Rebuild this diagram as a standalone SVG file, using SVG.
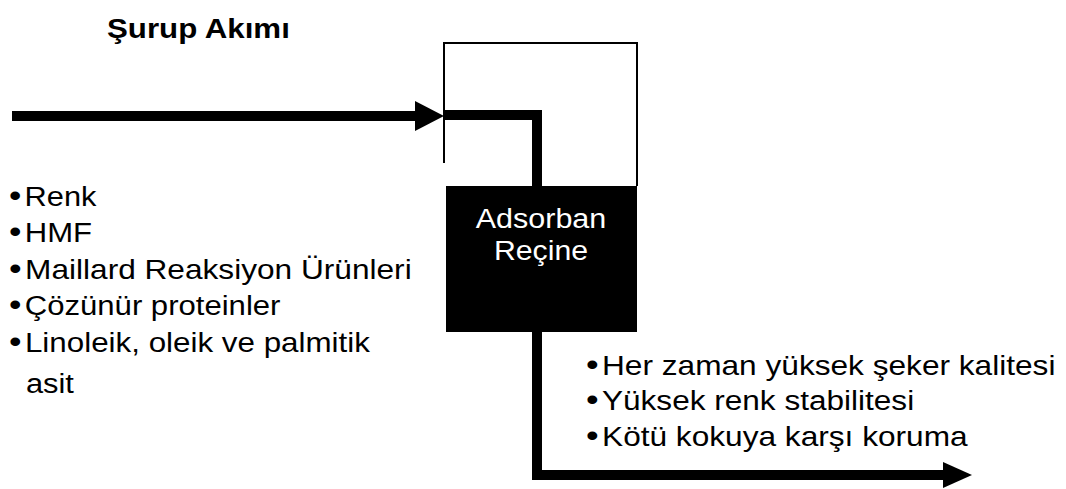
<svg xmlns="http://www.w3.org/2000/svg" width="1066" height="489" viewBox="0 0 1066 489">
  <style>
    .txt { font-family: "Liberation Sans", Arial, sans-serif; font-size: 28px; fill: #000; }
    .title { font-weight: bold; }
    .inv { fill: #fff; text-anchor: middle; }
    .b { font-size: 32px; }
    .flow { fill: none; stroke: #000; stroke-width: 10; stroke-linejoin: miter; }
    .outline { fill: none; stroke: #000; stroke-width: 2; }
  </style>

  <rect width="1066" height="489" fill="#fff"/>

  <!-- all lettering is set slightly wide: horizontal scale on each line -->
  <text class="txt title" transform="translate(107,38) scale(1.116,1)">Şurup Akımı</text>

  <!-- column vessel: open upper chamber and resin bed -->
  <g id="vessel">
    <path class="outline" d="M444,163 V43 H637 V186"/>
  </g>
  <g id="resin">
    <rect x="446" y="186" width="191" height="146" fill="#000"/>
    <text class="txt inv" transform="translate(541,228) scale(1.09,1)">Adsorban</text>
    <text class="txt inv" transform="translate(541,260) scale(1.08,1)">Reçine</text>
  </g>

  <!-- flow connectors -->
  <g id="connectors">
    <line class="flow" x1="12" y1="116" x2="418" y2="116"/>
    <polygon points="415,101 444,116 415,131" fill="#000"/>
    <path class="flow" d="M444,115 H537 V186"/>
    <path class="flow" d="M537,332 V475 H945"/>
    <polygon points="943,462 972,475 943,488" fill="#000"/>
  </g>

  <!-- substances taken out of the syrup -->
  <g id="removed">
    <text class="txt" transform="translate(9,206) scale(1.1,1)"><tspan class="b">•</tspan><tspan dx="3">Renk</tspan></text>
    <text class="txt" transform="translate(9,242) scale(1.11,1)"><tspan class="b">•</tspan><tspan dx="3">HMF</tspan></text>
    <text class="txt" transform="translate(9,279) scale(1.13,1)"><tspan class="b">•</tspan><tspan dx="3">Maillard Reaksiyon Ürünleri</tspan></text>
    <text class="txt" transform="translate(9,315) scale(1.11,1)"><tspan class="b">•</tspan><tspan dx="3">Çözünür proteinler</tspan></text>
    <text class="txt" transform="translate(9,352) scale(1.12,1)"><tspan class="b">•</tspan><tspan dx="3">Linoleik, oleik ve palmitik</tspan></text>
    <text class="txt" transform="translate(26,393) scale(1.1,1)">asit</text>
  </g>

  <!-- results for the treated syrup -->
  <g id="benefits">
    <text class="txt" transform="translate(586,375) scale(1.13,1)"><tspan class="b">•</tspan><tspan dx="3">Her zaman yüksek şeker kalitesi</tspan></text>
    <text class="txt" transform="translate(586,410) scale(1.127,1)"><tspan class="b">•</tspan><tspan dx="3">Yüksek renk stabilitesi</tspan></text>
    <text class="txt" transform="translate(586,446) scale(1.13,1)"><tspan class="b">•</tspan><tspan dx="3">Kötü kokuya karşı koruma</tspan></text>
  </g>
</svg>
